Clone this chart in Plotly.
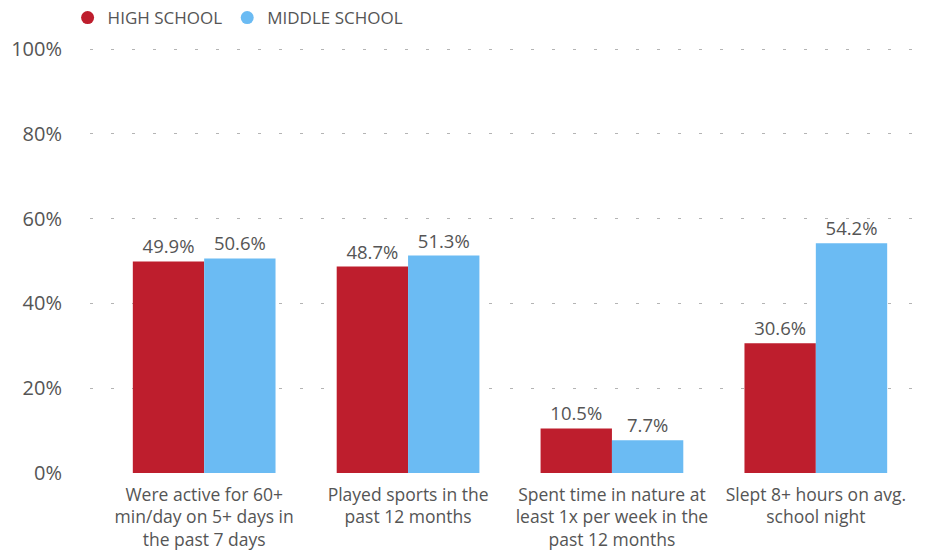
import plotly.graph_objects as go

categories = [
    "Were active for 60+<br>min/day on 5+ days in<br>the past 7 days",
    "Played sports in the<br>past 12 months",
    "Spent time in nature at<br>least 1x per week in the<br>past 12 months",
    "Slept 8+ hours on avg.<br>school night",
]
high_school = [49.9, 48.7, 10.5, 30.6]
middle_school = [50.6, 51.3, 7.7, 54.2]
y_ticks = [0, 20, 40, 60, 80, 100]

RED = "#BE1E2D"
BLUE = "#6BBBF3"
TEXT = "#555555"
FONT = "Open Sans"

fig = go.Figure()
x_idx = list(range(len(categories)))

for name, vals, color in [("HIGH SCHOOL", high_school, RED), ("MIDDLE SCHOOL", middle_school, BLUE)]:
    fig.add_trace(go.Bar(
        x=x_idx, y=vals, name=name, marker_color=color, marker_line_width=0,
        text=[f"{v:.1f}%" for v in vals], textposition="outside",
        textfont=dict(size=18.5, color=TEXT, family=FONT), cliponaxis=False,
        showlegend=False,
    ))
    # circle legend entries
    fig.add_trace(go.Scatter(
        x=[None], y=[None], mode="markers", name=name,
        marker=dict(symbol="circle", size=13, color=color),
    ))

fig.update_layout(
    width=939, height=553,
    margin=dict(l=90, r=9, t=48, b=80, autoexpand=False),
    paper_bgcolor="white", plot_bgcolor="white",
    barmode="group", bargap=0.3, bargroupgap=0,
    font=dict(family=FONT, color=TEXT, size=17),
    legend=dict(orientation="h", xref="container", yref="container",
                x=0.072, y=1.0, xanchor="left", yanchor="top",
                font=dict(size=17, color=TEXT, family=FONT),
                itemwidth=30, tracegroupgap=0),
    xaxis=dict(
        tickmode="array", tickvals=x_idx, ticktext=categories,
        range=[-0.56, 3.56], showgrid=False, zeroline=False, showline=False,
        ticks="", tickfont=dict(size=17.5, color=TEXT), automargin=False,
        ticklabelstandoff=9,
    ),
    yaxis=dict(
        range=[0, 100.25], tickvals=y_ticks, ticktext=[f"{t}%" for t in y_ticks],
        showgrid=True, gridcolor="#B4B4B4", gridwidth=1, griddash="3px,18px",
        zeroline=False, showline=False, ticks="", ticklabelstandoff=27,
        tickfont=dict(size=20, color=TEXT), automargin=False,
    ),
)

fig.write_html("out.html")
